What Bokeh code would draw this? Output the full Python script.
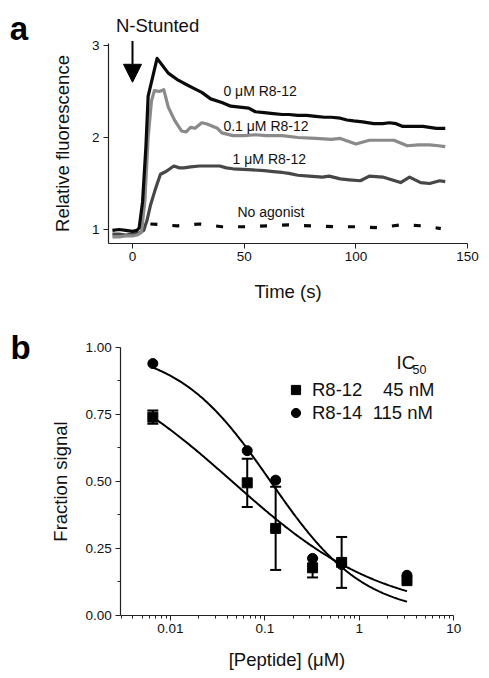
import numpy as np
from bokeh.plotting import figure
from bokeh.layouts import column
from bokeh.models import (ColumnDataSource, Label, Arrow, NormalHead, Whisker, TeeHead,
                          FixedTicker, PrintfTickFormatter, Legend, LegendItem)
from bokeh.embed import file_html
from bokeh.resources import INLINE

FONT = "Liberation Sans"

# ---------------- Panel a data (time in s, relative fluorescence) ----------------
t_0uM = [-9, -6, -3, 0, 2, 3, 4.5, 6, 7, 11, 16, 20, 23, 27, 31, 35, 40, 44, 48, 52, 55, 59,
         63, 67, 70, 74, 78, 82, 86, 89, 93, 96, 99, 103, 108, 112, 115, 118, 121, 125, 130,
         133, 136, 140]
f_0uM = [0.99, 1.0, 0.99, 0.98, 0.99, 1.02, 1.3, 1.9, 2.45, 2.86, 2.70, 2.63, 2.59, 2.54, 2.49,
         2.42, 2.38, 2.34, 2.33, 2.32, 2.28, 2.27, 2.26, 2.25, 2.25, 2.24, 2.24, 2.23, 2.22,
         2.22, 2.21, 2.19, 2.18, 2.17, 2.15, 2.15, 2.16, 2.15, 2.12, 2.12, 2.12, 2.11, 2.10, 2.10]

t_01uM = [-9, -6, -3, 0, 2, 4, 5.5, 7, 8.5, 9.8, 12, 14, 16, 19, 22, 24, 26, 28, 31, 33, 35, 38,
          40, 45, 50, 55, 60, 67, 74, 82, 89, 93, 100, 106, 112, 117, 123, 128, 133, 137, 140]
f_01uM = [0.92, 0.92, 0.93, 0.93, 0.94, 0.97, 1.3, 2.0, 2.4, 2.51, 2.50, 2.52, 2.33, 2.18, 2.07,
          2.06, 2.11, 2.10, 2.16, 2.15, 2.13, 2.10, 2.05, 2.02, 2.02, 2.03, 2.02, 2.02, 2.0,
          1.99, 1.98, 1.99, 1.93, 1.97, 1.97, 1.97, 1.91, 1.92, 1.92, 1.91, 1.90]

t_1uM = [-9, -6, -3, 0, 3, 5, 6.5, 8, 10, 12.5, 15, 18.5, 21, 23, 26, 30, 34, 39, 42, 45, 52, 59,
         63, 67, 70, 74, 79, 85, 88, 93, 97, 102, 106, 112, 116, 120, 124, 129, 133, 137.5, 140]
f_1uM = [0.95, 0.95, 0.94, 0.95, 0.96, 0.99, 1.1, 1.26, 1.42, 1.60, 1.63, 1.69, 1.67, 1.67,
         1.68, 1.69, 1.69, 1.69, 1.67, 1.66, 1.65, 1.64, 1.63, 1.62, 1.61, 1.59, 1.58, 1.57,
         1.58, 1.55, 1.54, 1.53, 1.58, 1.57, 1.54, 1.51, 1.57, 1.51, 1.50, 1.53, 1.52]

t_noag = [8, 20, 30, 40, 50, 60, 70, 80, 90, 100, 110, 120, 130, 138]
f_noag = [1.06, 1.04, 1.06, 1.03, 1.03, 1.04, 1.05, 1.04, 1.03, 1.03, 1.02, 1.05, 1.04, 1.01]

trace_labels = ["0 μM R8-12", "0.1 μM R8-12", "1 μM R8-12", "No agonist"]
a_yticks = [1, 2, 3]
a_xticks = [0, 50, 100, 150]

# ---------------- Panel b data ([Peptide] in uM, fraction signal) ----------------
conc = [0.0065, 0.065, 0.13, 0.32, 0.65, 3.2]
r812_y = [0.74, 0.495, 0.325, 0.178, 0.198, 0.13]
r812_err = [0.025, 0.09, 0.155, 0.036, 0.095, 0.0]
r814_y = [0.94, 0.615, 0.505, 0.213, 0.19, 0.15]

# Hill fit parameters (top, bottom, IC50 in uM, slope)
fit_r812 = dict(top=1.0, bottom=0.0, ic50=0.045, slope=0.54)
fit_r814 = dict(top=1.0, bottom=0.0, ic50=0.115, slope=0.875)

b_xticks = [0.01, 0.1, 1, 10]
b_xtick_labels = ["0.01", "0.1", "1", "10"]
b_yticks = [0.0, 0.25, 0.5, 0.75, 1.0]

C_BLACK = "#0a0a0a"
C_LIGHT = "#8a8a8a"
C_DARK = "#474747"


def style_axes(p, tick_size="13.5px", label_size="18.5px"):
    p.outline_line_color = None
    p.xgrid.visible = False
    p.ygrid.visible = False
    for ax in (p.xaxis[0], p.yaxis[0]):
        ax.axis_line_color = "#222222"
        ax.axis_line_width = 1.2
        ax.major_tick_line_color = "#222222"
        ax.minor_tick_line_color = "#222222"
        ax.major_tick_in = 0
        ax.major_tick_out = 5
        ax.minor_tick_in = 0
        ax.minor_tick_out = 3
        ax.major_label_text_font = FONT
        ax.major_label_text_font_size = tick_size
        ax.major_label_text_color = "#111111"
        ax.axis_label_text_font = FONT
        ax.axis_label_text_font_size = label_size
        ax.axis_label_text_font_style = "normal"
        ax.axis_label_text_color = "#111111"
        ax.major_label_standoff = 4


NOBORDER = dict(min_border=0, min_border_left=0, min_border_right=0,
                min_border_top=0, min_border_bottom=0)

# ---------------- Panel a ----------------
# frame covers the whole canvas; axes are placed with fixed_location + bounds
pa = figure(width=489, height=320, x_range=(-59.09, 159.8), y_range=(0.011, 3.489),
            output_backend="svg", toolbar_location=None, **NOBORDER)
style_axes(pa)
pa.xaxis.ticker = FixedTicker(ticks=a_xticks, minor_ticks=[])
pa.yaxis.ticker = FixedTicker(ticks=a_yticks, minor_ticks=[])
pa.xaxis.fixed_location = 0.848
pa.xaxis.bounds = (-10.7, 150)
pa.yaxis.fixed_location = -10.7
pa.yaxis.bounds = (0.848, 3.022)
pa.xaxis.axis_label = "Time (s)"
pa.yaxis.axis_label = "Relative fluorescence"
pa.xaxis.axis_label_standoff = 16
pa.yaxis.axis_label_standoff = 16

pa.line(t_1uM, f_1uM, line_color=C_DARK, line_width=3.2, line_join="round")
pa.line(t_01uM, f_01uM, line_color=C_LIGHT, line_width=3.2, line_join="round")
pa.line(t_0uM, f_0uM, line_color=C_BLACK, line_width=3.2, line_join="round")
pa.line(t_noag, f_noag, line_color=C_BLACK, line_width=3.2, line_dash="7 15")

label_pos = [(40.7, 2.50), (40.7, 2.13), (44.8, 1.77), (47.0, 1.185)]
for txt, (lx, ly) in zip(trace_labels, label_pos):
    pa.add_layout(Label(x=lx, y=ly, text=txt, text_font=FONT, text_font_size="14px",
                        text_baseline="middle", text_align="left", text_color="#111111"))

pa.add_layout(Label(x=11.2, y=3.217, text="N-Stunted", text_font=FONT, text_font_size="18.5px",
                    text_baseline="middle", text_align="center", text_color="#111111"))
pa.add_layout(Arrow(end=NormalHead(size=18, fill_color="black", line_color="black"),
                    x_start=0, y_start=3.05, x_end=0, y_end=2.60, line_width=2,
                    line_color="black"))
pa.add_layout(Label(x=-55, y=3.185, text="a", text_font=FONT, text_font_size="33px",
                    text_font_style="bold", text_baseline="alphabetic", text_align="left",
                    text_color="black"))

# ---------------- Panel b ----------------
pb = figure(width=489, height=358, x_axis_type="log",
            x_range=(10 ** -3.8008, 10 ** 1.3793), y_range=(-0.2351, 1.1007),
            output_backend="svg", toolbar_location=None, **NOBORDER)
style_axes(pb)
minor = [k * 10.0 ** e for e in range(-3, 1) for k in range(2, 10) if 0.00298 <= k * 10.0 ** e <= 10]
pb.xaxis.ticker = FixedTicker(ticks=b_xticks, minor_ticks=minor)
pb.xaxis.major_label_overrides = dict(zip(b_xticks, b_xtick_labels))
pb.yaxis.ticker = FixedTicker(ticks=b_yticks, minor_ticks=[0.125, 0.375, 0.625, 0.875])
pb.yaxis.formatter = PrintfTickFormatter(format="%.2f")
pb.xaxis.fixed_location = 0.0
pb.xaxis.bounds = (0.00298, 10)
pb.yaxis.fixed_location = 0.00298
pb.yaxis.bounds = (0.0, 1.0)
pb.xaxis.axis_label = "[Peptide] (μM)"
pb.yaxis.axis_label = "Fraction signal"
pb.xaxis.axis_label_standoff = 12
pb.yaxis.axis_label_standoff = 11


def hill(x, top, bottom, ic50, slope):
    x = np.asarray(x, dtype=float)
    return bottom + (top - bottom) / (1.0 + (x / ic50) ** slope)


xfit = np.logspace(np.log10(conc[0]), np.log10(conc[-1]), 200)
pb.line(xfit, hill(xfit, **fit_r812), line_color="black", line_width=2)
pb.line(xfit, hill(xfit, **fit_r814), line_color="black", line_width=2)

err_idx = [i for i, e in enumerate(r812_err) if e > 0]
esrc = ColumnDataSource(dict(
    x=[conc[i] for i in err_idx],
    upper=[r812_y[i] + r812_err[i] for i in err_idx],
    lower=[r812_y[i] - r812_err[i] for i in err_idx]))
pb.add_layout(Whisker(source=esrc, base="x", upper="upper", lower="lower", line_width=2,
                      line_color="black",
                      upper_head=TeeHead(size=11, line_width=2, line_color="black"),
                      lower_head=TeeHead(size=11, line_width=2, line_color="black")))

r_circ = pb.scatter(conc, r814_y, marker="circle", size=10, fill_color="black", line_color="black")
r_sq = pb.scatter(conc, r812_y, marker="square", size=10, fill_color="black", line_color="black")

nb = "\u00a0"
legend = Legend(items=[LegendItem(label="R8-12" + nb * 4 + "45 nM", renderers=[r_sq]),
                       LegendItem(label="R8-14" + nb * 2 + "115 nM", renderers=[r_circ])],
                location=(283, 254), orientation="vertical",
                glyph_width=25, glyph_height=23, spacing=0, padding=0, margin=0,
                label_standoff=4, label_height=20,
                label_text_font=FONT, label_text_font_size="18.5px", label_text_color="#111111",
                border_line_color=None, background_fill_alpha=0)
pb.add_layout(legend)

pb.add_layout(Label(x=2.48, y=0.944, text="IC", text_font=FONT, text_font_size="18.5px",
                    text_baseline="middle", text_align="left", text_color="#111111"))
pb.add_layout(Label(x=3.66, y=0.918, text="50", text_font=FONT, text_font_size="12.5px",
                    text_baseline="middle", text_align="left", text_color="#111111"))
pb.add_layout(Label(x=0.000202, y=1.0, text="b", text_font=FONT, text_font_size="33px",
                    text_font_style="bold", text_baseline="alphabetic", text_align="left",
                    text_color="black"))

layout = column(pa, pb, spacing=0)
open("out.html", "w").write(file_html(layout, INLINE))
